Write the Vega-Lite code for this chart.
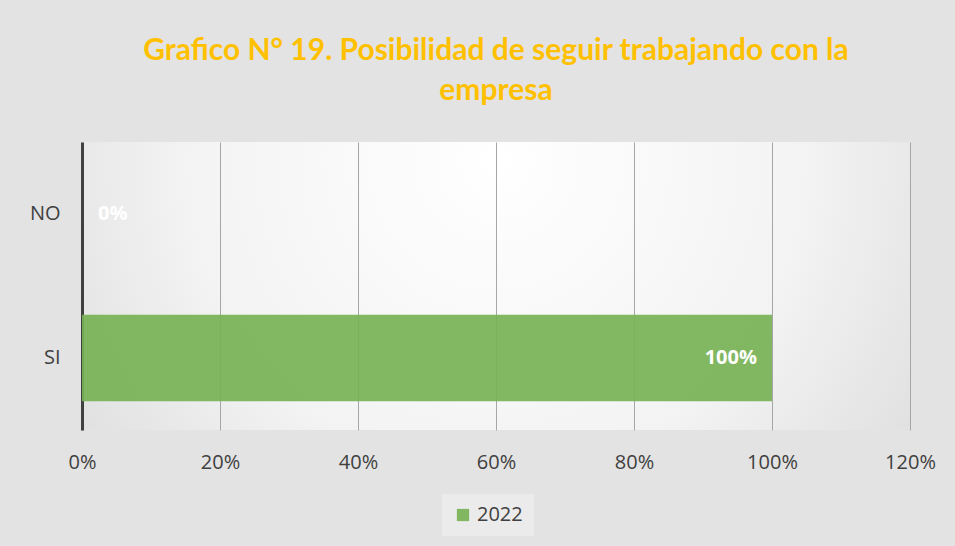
{
  "$schema": "https://vega.github.io/schema/vega-lite/v6.json",
  "width": 828,
  "height": 288,
  "padding": {"left": 29, "top": 36, "right": 43, "bottom": 10},
  "background": "#e3e3e3",
  "title": {
    "text": ["Grafico N° 19. Posibilidad de seguir trabajando con la", "empresa"],
    "color": "#FFC000",
    "font": "Lato",
    "fontWeight": "bold",
    "fontSize": 30,
    "lineHeight": 40,
    "anchor": "middle",
    "offset": 36
  },
  "config": {
    "view": {
      "stroke": null,
      "fill": {
        "gradient": "radial",
        "x1": 0.5, "y1": 0.35, "r1": 0,
        "x2": 0.5, "y2": 0.35, "r2": 0.75,
        "stops": [
          {"offset": 0, "color": "#ffffff"},
          {"offset": 0.5, "color": "#f3f3f3"},
          {"offset": 1, "color": "#d4d4d4"}
        ]
      }
    },
    "font": "Open Sans",
    "axis": {"labelColor": "#404040", "labelFontSize": 20, "labelFont": "Open Sans"}
  },
  "data": {
    "values": [
      {"respuesta": "NO", "valor": 0, "serie": "2022"},
      {"respuesta": "SI", "valor": 1, "serie": "2022"}
    ]
  },
  "encoding": {
    "y": {
      "field": "respuesta",
      "type": "nominal",
      "sort": ["NO", "SI"],
      "title": null,
      "scale": {"paddingInner": 0.4, "paddingOuter": 0.2},
      "axis": {
        "ticks": false,
        "labelPadding": 22,
        "domainColor": "#404040",
        "domainWidth": 3,
        "labelAngle": 0
      }
    },
    "x": {
      "field": "valor",
      "type": "quantitative",
      "title": null,
      "scale": {"domain": [0, 1.2], "nice": false},
      "axis": {
        "format": ".0%",
        "values": [0, 0.2, 0.4, 0.6, 0.8, 1.0, 1.2],
        "ticks": false,
        "domain": false,
        "grid": true,
        "gridColor": "#a6a6a6",
        "gridWidth": 1,
        "labelPadding": 22,
        "labelFlush": false
      }
    }
  },
  "layer": [
    {
      "mark": {"type": "bar", "opacity": 0.92},
      "encoding": {
        "color": {
          "field": "serie",
          "type": "nominal",
          "scale": {"range": ["#77b255"]},
          "legend": {
            "title": null,
            "orient": "none",
            "legendX": 360,
            "legendY": 352,
            "direction": "horizontal",
            "symbolType": "square",
            "symbolSize": 150,
            "symbolStrokeWidth": 0,
            "labelFontSize": 20,
            "labelColor": "#404040",
            "labelFont": "Open Sans",
            "fillColor": "#ebebeb",
            "padding": 11
          }
        }
      }
    },
    {
      "transform": [{"filter": "datum.valor > 0"}],
      "mark": {
        "type": "text",
        "color": "white",
        "fontWeight": "bold",
        "fontSize": 20,
        "font": "Open Sans",
        "align": "right",
        "dx": -15
      },
      "encoding": {
        "text": {"field": "valor", "type": "quantitative", "format": ".0%"}
      }
    },
    {
      "transform": [{"filter": "datum.valor <= 0"}],
      "mark": {
        "type": "text",
        "color": "white",
        "fontWeight": "bold",
        "fontSize": 20,
        "font": "Open Sans",
        "align": "left",
        "dx": 16
      },
      "encoding": {
        "text": {"field": "valor", "type": "quantitative", "format": ".0%"}
      }
    }
  ]
}
